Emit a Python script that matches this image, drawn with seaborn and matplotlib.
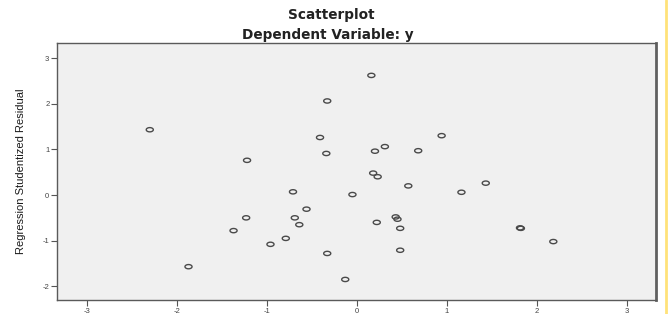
import numpy as np
import pandas as pd
import matplotlib
matplotlib.use("Agg")
import matplotlib.pyplot as plt
from matplotlib.path import Path
from matplotlib.lines import Line2D
import seaborn as sns

# Data
pred = [-2.30, -1.87, -1.22, -1.23, -1.37, -0.96, -0.79, -0.71, -0.69, -0.64,
        -0.56, -0.41, -0.33, -0.34, -0.33, -0.13, -0.05, 0.16, 0.20, 0.31,
        0.18, 0.23, 0.22, 0.43, 0.45, 0.48, 0.48, 0.57, 0.68, 0.94,
        1.16, 1.43, 1.81, 1.82, 2.18]
resid = [1.43, -1.57, 0.76, -0.50, -0.78, -1.08, -0.95, 0.07, -0.50, -0.65,
         -0.31, 1.26, 2.06, 0.91, -1.28, -1.85, 0.01, 2.62, 0.96, 1.06,
         0.48, 0.40, -0.60, -0.48, -0.53, -0.73, -1.21, 0.20, 0.97, 1.30,
         0.06, 0.26, -0.72, -0.73, -1.02]
xticks = [-3, -2, -1, 0, 1, 2, 3]
yticks = [-2, -1, 0, 1, 2, 3]

df = pd.DataFrame({"pred": pred, "resid": resid})

sns.set_theme(style="white")
plt.rcParams["font.family"] = ["Liberation Sans", "DejaVu Sans"]

fig = plt.figure(figsize=(6.7, 3.14), dpi=100)
ax = fig.add_axes([57 / 670, 1 - 300 / 314, (656 - 57) / 670, (300 - 43) / 314])
ax.set_facecolor("#f0f0f0")

# elliptical open marker (wider than tall)
t = np.linspace(0, 2 * np.pi, 40)
ell = Path(np.column_stack([np.cos(t), 0.6 * np.sin(t)]), closed=True)

sns.scatterplot(data=df, x="pred", y="resid", ax=ax, marker=ell, s=26,
                facecolor="none", edgecolor="#4a4a4a", linewidth=1.0, legend=False)

ax.set_xlim(-3.33, 3.32)
ax.set_ylim(-2.30, 3.33)
ax.set_xticks(xticks)
ax.set_yticks(yticks)
ax.set_xticklabels([str(v) for v in xticks])
ax.set_yticklabels([str(v) for v in yticks])
ax.tick_params(axis="both", which="both", direction="out", length=4, width=0.8,
               color="#555555", labelsize=5.5, labelcolor="#444444", pad=1.5,
               bottom=True, left=True)
ax.set_xlabel("")
ax.set_ylabel("Regression Studentized Residual", fontsize=8,
              color="#1a1a1a", labelpad=12)
for side, sp in ax.spines.items():
    sp.set_visible(True)
    sp.set_color("#5a5a5a")
    sp.set_linewidth(1.0)
ax.spines["right"].set_linewidth(2.0)
ax.spines["right"].set_color("#606060")

fig.text(331 / 670, 1 - 15 / 314, "Scatterplot", ha="center", va="center",
         fontsize=9.8, fontweight="bold", color="#222222", family="DejaVu Sans")
fig.text(328 / 670, 1 - 35 / 314, "Dependent Variable: y", ha="center", va="center",
         fontsize=9.8, fontweight="bold", color="#222222", family="DejaVu Sans")

fig.add_artist(Line2D([666 / 670, 666 / 670], [0, 1], color="#ffe27a", lw=2,
                      transform=fig.transFigure))

fig.savefig("out.png", dpi=100)
